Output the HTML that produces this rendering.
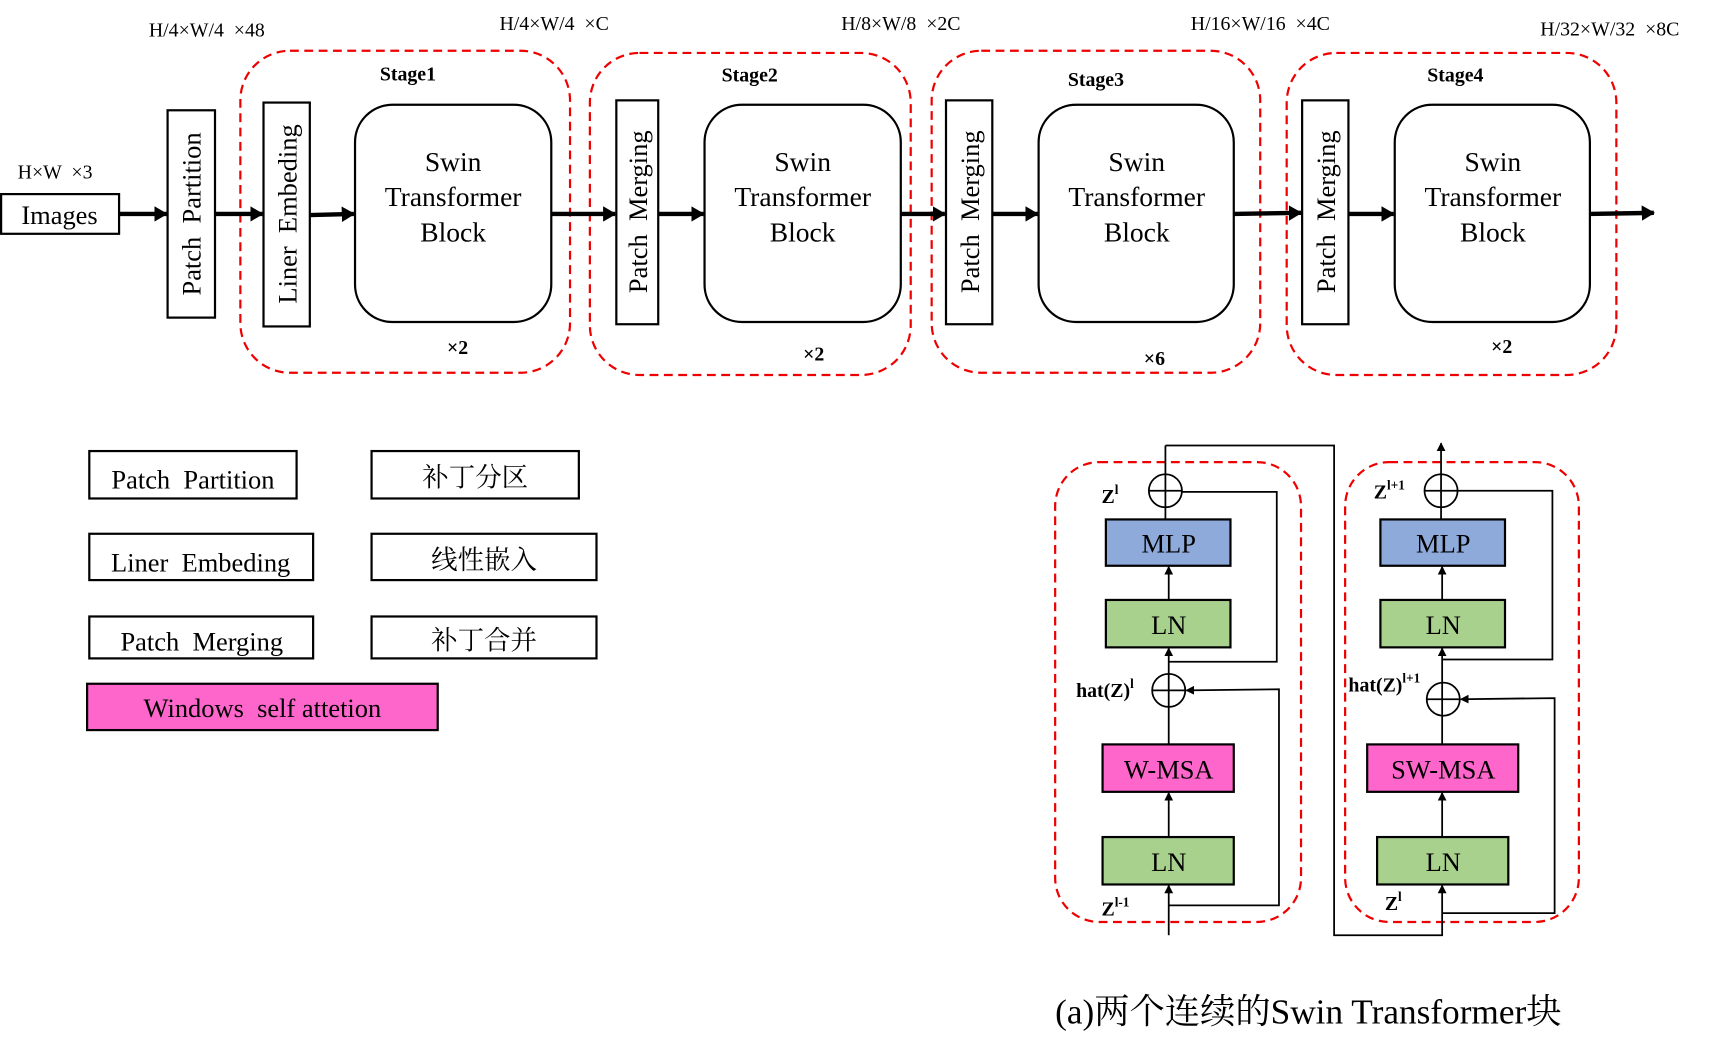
<!DOCTYPE html>
<html><head><meta charset="utf-8"><style>
html,body{margin:0;padding:0;background:#fff;}
svg{display:block;}
text{font-family:"Liberation Serif","Noto Serif CJK SC","Noto Sans CJK SC",serif;fill:#000;white-space:pre;}
.b{font-weight:bold;}
</style></head><body>
<svg width="1720" height="1051" viewBox="0 0 1560 953" preserveAspectRatio="none" xmlns="http://www.w3.org/2000/svg" xml:space="preserve">
<defs>
<marker id="ah" markerWidth="8" markerHeight="8" refX="7" refY="4" orient="auto" markerUnits="userSpaceOnUse"><path d="M0,0 L8,4 L0,8 z" fill="#000"/></marker>
<marker id="at" markerWidth="12" markerHeight="14" refX="11" refY="7" orient="auto" markerUnits="userSpaceOnUse"><path d="M0,0 L12,7 L0,14 z" fill="#000"/></marker>
</defs>
<g font-size="18">
<text x="135" y="33">H/4×W/4  ×48</text>
<text x="453" y="27">H/4×W/4  ×C</text>
<text x="763" y="27">H/8×W/8  ×2C</text>
<text x="1080" y="27">H/16×W/16  ×4C</text>
<text x="1397" y="32">H/32×W/32  ×8C</text>
<text x="16" y="162">H×W  ×3</text>
</g>
<g fill="none" stroke="#e00" stroke-width="2" stroke-dasharray="8,5">
<rect x="218" y="46" width="299" height="292" rx="45"/>
<rect x="535" y="48" width="291" height="292" rx="45"/>
<rect x="845" y="46" width="298" height="292" rx="45"/>
<rect x="1167" y="48" width="299" height="292" rx="45"/>
<rect x="957" y="419" width="223" height="417" rx="40"/>
<rect x="1220" y="419" width="212" height="417" rx="40"/>
</g>
<g fill="none" stroke="#000" stroke-width="2">
<rect x="1" y="176" width="107" height="36"/>
<rect x="152" y="100" width="43" height="188"/>
<rect x="239" y="93" width="42" height="203"/>
<rect x="559" y="91" width="38" height="203"/>
<rect x="858" y="91" width="42" height="203"/>
<rect x="1181" y="91" width="42" height="203"/>
<rect x="322" y="95" width="178" height="197" rx="34"/>
<rect x="639" y="95" width="178" height="197" rx="34"/>
<rect x="942" y="95" width="177" height="197" rx="34"/>
<rect x="1265" y="95" width="177" height="197" rx="34"/>
</g>
<g stroke="#000" stroke-width="4" marker-end="url(#at)">
<line x1="108" y1="194" x2="151" y2="194"/>
<line x1="195" y1="194" x2="238" y2="194"/>
<line x1="281" y1="195" x2="321" y2="194"/>
<line x1="500" y1="194" x2="558" y2="194"/>
<line x1="597" y1="194" x2="638" y2="194"/>
<line x1="817" y1="194" x2="857" y2="194"/>
<line x1="900" y1="194" x2="941" y2="194"/>
<line x1="1119" y1="194" x2="1180" y2="193"/>
<line x1="1223" y1="194" x2="1264" y2="194"/>
<line x1="1442" y1="194" x2="1500" y2="193"/>
</g>
<text x="54" y="203" font-size="24" text-anchor="middle">Images</text>
<g font-size="24" text-anchor="middle">
<text transform="translate(182,194) rotate(-90)">Patch  Partition</text>
<text transform="translate(269,194) rotate(-90)">Liner  Embeding</text>
<text transform="translate(587,192) rotate(-90)">Patch  Merging</text>
<text transform="translate(888,192) rotate(-90)">Patch  Merging</text>
<text transform="translate(1211,192) rotate(-90)">Patch  Merging</text>
</g>
<g font-size="25" text-anchor="middle">
<text x="411" y="155">Swin</text><text x="411" y="187">Transformer</text><text x="411" y="219">Block</text>
<text x="728" y="155">Swin</text><text x="728" y="187">Transformer</text><text x="728" y="219">Block</text>
<text x="1031" y="155">Swin</text><text x="1031" y="187">Transformer</text><text x="1031" y="219">Block</text>
<text x="1354" y="155">Swin</text><text x="1354" y="187">Transformer</text><text x="1354" y="219">Block</text>
</g>
<g font-size="18" class="b" text-anchor="middle">
<text x="370" y="73" class="b">Stage1</text>
<text x="680" y="74" class="b">Stage2</text>
<text x="994" y="78" class="b">Stage3</text>
<text x="1320" y="74" class="b">Stage4</text>
<text x="415" y="321" class="b">×2</text>
<text x="738" y="327" class="b">×2</text>
<text x="1047" y="331" class="b">×6</text>
<text x="1362" y="320" class="b">×2</text>
</g>
<g stroke="#000" stroke-width="2">
<rect x="81" y="409" width="188" height="43" fill="none"/>
<rect x="337" y="409" width="188" height="43" fill="none"/>
<rect x="81" y="484" width="203" height="42" fill="none"/>
<rect x="337" y="484" width="204" height="42" fill="none"/>
<rect x="81" y="559" width="203" height="38" fill="none"/>
<rect x="337" y="559" width="204" height="38" fill="none"/>
<rect x="79" y="620" width="318" height="42" fill="#ff66cc"/>
</g>
<g font-size="24" text-anchor="middle">
<text x="175" y="443">Patch  Partition</text>
<text x="431" y="441">补丁分区</text>
<text x="182" y="518">Liner  Embeding</text>
<text x="439" y="516">线性嵌入</text>
<text x="183" y="590">Patch  Merging</text>
<text x="439" y="589">补丁合并</text>
<text x="238" y="650">Windows  self attetion</text>
</g>
<g stroke="#000" stroke-width="2">
<rect x="1003" y="471" width="113" height="42" fill="#8eaadb"/>
<rect x="1003" y="544" width="113" height="43" fill="#a9d18e"/>
<rect x="1000" y="675" width="119" height="43" fill="#ff66cc"/>
<rect x="1000" y="759" width="119" height="43" fill="#a9d18e"/>
<rect x="1252" y="471" width="113" height="42" fill="#8eaadb"/>
<rect x="1252" y="544" width="113" height="43" fill="#a9d18e"/>
<rect x="1240" y="675" width="137" height="43" fill="#ff66cc"/>
<rect x="1249" y="759" width="119" height="43" fill="#a9d18e"/>
</g>
<g fill="none" stroke="#000" stroke-width="1.6">
<circle cx="1057" cy="445" r="15"/><line x1="1042" y1="445" x2="1072" y2="445"/>
<circle cx="1060" cy="626" r="15"/><line x1="1045" y1="626" x2="1075" y2="626"/>
<circle cx="1307" cy="445" r="15"/><line x1="1292" y1="445" x2="1322" y2="445"/>
<circle cx="1309" cy="634" r="15"/><line x1="1294" y1="634" x2="1324" y2="634"/>
<line x1="1060" y1="848" x2="1060" y2="803" marker-end="url(#ah)"/>
<line x1="1060" y1="759" x2="1060" y2="719" marker-end="url(#ah)"/>
<line x1="1060" y1="675" x2="1060" y2="611"/>
<line x1="1060" y1="611" x2="1060" y2="588" marker-end="url(#ah)"/>
<line x1="1060" y1="544" x2="1060" y2="514" marker-end="url(#ah)"/>
<line x1="1057" y1="471" x2="1057" y2="404"/>
<polyline points="1060,821 1160,821 1160,625 1076,626" marker-end="url(#ah)"/>
<polyline points="1060,600 1158,600 1158,446 1072,446"/>
<polyline points="1057,404 1210,404 1210,848 1308,848 1308,803" marker-end="url(#ah)"/>
<line x1="1308" y1="759" x2="1308" y2="719" marker-end="url(#ah)"/>
<line x1="1308" y1="675" x2="1308" y2="619"/>
<line x1="1308" y1="619" x2="1308" y2="588" marker-end="url(#ah)"/>
<line x1="1308" y1="544" x2="1308" y2="514" marker-end="url(#ah)"/>
<line x1="1307" y1="471" x2="1307" y2="402" marker-end="url(#ah)"/>
<polyline points="1308,828 1410,828 1410,633 1325,634" marker-end="url(#ah)"/>
<polyline points="1308,598 1408,598 1408,445 1322,445"/>
</g>
<g font-size="24" text-anchor="middle">
<text x="1060" y="501">MLP</text>
<text x="1060" y="575">LN</text>
<text x="1060" y="706">W-MSA</text>
<text x="1060" y="790">LN</text>
<text x="1309" y="501">MLP</text>
<text x="1309" y="575">LN</text>
<text x="1309" y="706">SW-MSA</text>
<text x="1309" y="790">LN</text>
</g>
<g font-size="18" class="b">
<text x="999" y="456" class="b">Z<tspan font-size="12" dy="-8">l</tspan></text>
<text x="1246" y="452" class="b">Z<tspan font-size="12" dy="-8">l+1</tspan></text>
<text x="976" y="632" class="b">hat(Z)<tspan font-size="12" dy="-8">l</tspan></text>
<text x="1223" y="627" class="b">hat(Z)<tspan font-size="12" dy="-8">l+1</tspan></text>
<text x="999" y="830" class="b">Z<tspan font-size="12" dy="-8">l-1</tspan></text>
<text x="1256" y="825" class="b">Z<tspan font-size="12" dy="-8">l</tspan></text>
</g>
<text x="957" y="928" font-size="32">(a)两个连续的Swin Transformer块</text>
</svg>
</body></html>
